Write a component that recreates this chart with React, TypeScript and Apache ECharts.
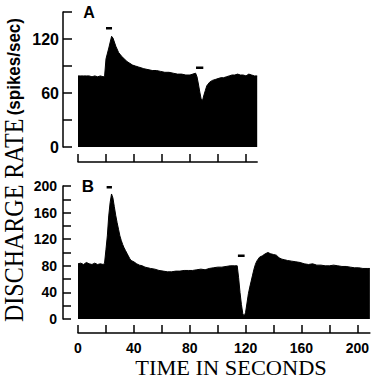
import React, { useEffect, useRef } from "react";
import * as echarts from "echarts";

// Panel A: time (s) and discharge rate (spikes/sec)
const timeA = [0, 2, 4, 6, 8, 10, 12, 14, 16, 18, 19, 20, 22, 24, 25, 27, 29, 31, 33, 35, 37, 39, 41, 43, 45, 47, 50, 53, 56, 59, 62, 65, 68, 71, 74, 77, 80, 82, 84, 85, 86, 87, 88, 89, 90, 91, 92, 94, 96, 98, 100, 102, 104, 106, 108, 110, 112, 114, 116, 118, 120, 122, 124, 126, 128];
const rateA = [79, 79, 79, 79, 79, 78, 79, 78, 79, 78, 79, 98, 110, 123, 121, 112, 105, 101, 98, 95, 93, 91, 90, 89, 88, 87, 86, 85, 85, 84, 83, 83, 82, 81, 81, 80, 80, 81, 82, 78, 70, 61, 53, 52, 58, 63, 68, 72, 74, 75, 76, 77, 77, 78, 79, 80, 80, 81, 80, 80, 79, 81, 80, 79, 79];

// Panel B
const timeB = [0, 2, 4, 6, 8, 10, 12, 14, 16, 18, 19, 20, 21, 22, 23, 24, 25, 26, 27, 28, 29, 30, 31, 32, 33, 34, 35, 36, 37, 38, 40, 42, 44, 46, 48, 50, 52, 55, 58, 61, 64, 67, 70, 73, 76, 79, 82, 85, 88, 91, 94, 97, 100, 103, 106, 109, 112, 114, 115, 116, 117, 118, 119, 120, 121, 122, 123, 124, 125, 126, 127, 128, 130, 132, 134, 136, 138, 140, 142, 144, 146, 148, 150, 153, 156, 159, 162, 165, 168, 171, 174, 177, 180, 183, 186, 189, 192, 195, 198, 201, 204, 207, 209];
const rateB = [83, 84, 82, 85, 83, 82, 84, 82, 83, 82, 84, 104, 125, 155, 175, 188, 182, 169, 156, 145, 135, 125, 118, 112, 107, 103, 99, 95, 91, 88, 86, 83, 81, 80, 78, 77, 76, 75, 73, 72, 71, 71, 72, 72, 73, 73, 73, 74, 75, 74, 76, 77, 78, 78, 79, 80, 80, 80, 62, 40, 22, 8, 4, 10, 24, 38, 48, 57, 66, 75, 82, 87, 93, 95, 98, 100, 98, 97, 96, 92, 90, 89, 88, 87, 86, 85, 83, 82, 83, 81, 81, 80, 80, 81, 80, 79, 79, 78, 77, 77, 76, 76, 76];

// Stimulus bars: start, end (s) and level (spikes/sec)
const stimAStart = [20, 84.3];
const stimAEnd = [24.3, 89.5];
const stimALevel = [132, 88];
const stimBStart = [20.5, 114.5];
const stimBEnd = [24.3, 119.3];
const stimBLevel = [198, 95];

// Ticks
const xTicksA = [0, 20, 40, 60, 80, 100, 120];
const xTicksB = [0, 20, 40, 60, 80, 100, 120, 140, 160, 180, 200];
const xLabelsB = [0, 40, 80, 120, 160, 200];
const yTicksA = [0, 30, 60, 90, 120, 150];
const yLabelsA = [0, 60, 120];
const yTicksB = [0, 20, 40, 60, 80, 100, 120, 140, 160, 180, 200];
const yLabelsB = [0, 40, 80, 120, 160, 200];

const SANS = "Liberation Sans, Arial, sans-serif";
const SERIF = "Liberation Serif, Times New Roman, serif";

function stimSeries(starts: number[], ends: number[], levels: number[], idx: number) {
  return starts.map((s, i) => ({
    type: "line",
    xAxisIndex: idx,
    yAxisIndex: idx,
    data: [
      [s, levels[i]],
      [ends[i], levels[i]],
    ],
    symbol: "none",
    lineStyle: { color: "#000", width: 2.5 },
    silent: true,
  }));
}

export default function App() {
  const ref = useRef<HTMLDivElement>(null);
  useEffect(() => {
    if (!ref.current) return;
    const chart = echarts.init(ref.current, undefined, { renderer: "svg" });
    const axisLine = { show: true, onZero: false, lineStyle: { color: "#000", width: 1.5 } };
    const tickStyle = { color: "#000", width: 1.5 };
    chart.setOption({
      animation: false,
      backgroundColor: "#fff",
      grid: [
        { left: 78, top: 12, width: 179.2, height: 135 },
        { left: 78, top: 186, width: 292.6, height: 133 },
      ],
      xAxis: [
        {
          type: "value",
          gridIndex: 0,
          min: 0,
          max: 128,
          offset: 15,
          axisLine,
          splitLine: { show: false },
          axisTick: { show: true, inside: true, length: 8, customValues: xTicksA, lineStyle: tickStyle },
          axisLabel: { show: false },
        },
        {
          type: "value",
          gridIndex: 1,
          min: 0,
          max: 209,
          offset: 14,
          axisLine,
          splitLine: { show: false },
          axisTick: { show: true, inside: true, length: 8, customValues: xTicksB, lineStyle: tickStyle },
          axisLabel: { show: true, customValues: xLabelsB, color: "#000", fontSize: 14, fontWeight: "bold", fontFamily: SANS, margin: 8 },
        },
      ],
      yAxis: [
        {
          type: "value",
          gridIndex: 0,
          min: 0,
          max: 150,
          interval: 30,
          offset: 15,
          axisLine,
          splitLine: { show: false },
          axisTick: { show: true, inside: true, length: 9, customValues: yTicksA, lineStyle: tickStyle },
          axisLabel: { show: true, customValues: yLabelsA, color: "#000", fontSize: 16, fontWeight: "bold", fontFamily: SANS, margin: 4 },
        },
        {
          type: "value",
          gridIndex: 1,
          min: 0,
          max: 200,
          interval: 20,
          offset: 15,
          axisLine,
          splitLine: { show: false },
          axisTick: { show: true, inside: true, length: 8, customValues: yTicksB, lineStyle: tickStyle },
          axisLabel: { show: true, customValues: yLabelsB, color: "#000", fontSize: 14, fontWeight: "bold", fontFamily: SANS, margin: 6 },
        },
      ],
      series: [
        {
          type: "line",
          xAxisIndex: 0,
          yAxisIndex: 0,
          data: timeA.map((t, i) => [t, rateA[i]]),
          symbol: "none",
          lineStyle: { color: "#000", width: 1 },
          areaStyle: { color: "#000", opacity: 1 },
          silent: true,
        },
        {
          type: "line",
          xAxisIndex: 1,
          yAxisIndex: 1,
          data: timeB.map((t, i) => [t, rateB[i]]),
          symbol: "none",
          lineStyle: { color: "#000", width: 1 },
          areaStyle: { color: "#000", opacity: 1 },
          silent: true,
        },
        ...stimSeries(stimAStart, stimAEnd, stimALevel, 0),
        ...stimSeries(stimBStart, stimBEnd, stimBLevel, 1),
      ],
      graphic: [
        {
          type: "text",
          x: 89,
          y: 12,
          style: { text: "A", fontSize: 16, fontWeight: "bold", fontFamily: SANS, fill: "#000", align: "center", verticalAlign: "middle" },
        },
        {
          type: "text",
          x: 88,
          y: 186,
          style: { text: "B", fontSize: 17, fontWeight: "bold", fontFamily: SANS, fill: "#000", align: "center", verticalAlign: "middle" },
        },
        {
          type: "text",
          x: 231,
          y: 368,
          scaleX: 1.12,
          style: { text: "TIME IN SECONDS", fontSize: 20, fontFamily: SERIF, fill: "#000", align: "center", verticalAlign: "middle" },
        },
        {
          type: "text",
          x: 14,
          y: 170,
          rotation: Math.PI / 2,
          scaleY: 1.12,
          style: {
            text: "{a|DISCHARGE RATE} {b|(spikes/sec)}",
            align: "center",
            verticalAlign: "middle",
            fill: "#000",
            rich: {
              a: { fontSize: 24, lineHeight: 22, fontFamily: SERIF, fill: "#000" },
              b: { fontSize: 17, lineHeight: 22, fontWeight: "bold", fontFamily: SANS, fill: "#000" },
            },
          },
        },
      ],
    });
    return () => chart.dispose();
  }, []);
  return (
    <div
      ref={ref}
      style={{ position: "fixed", left: 0, top: 0, width: 372, height: 380, background: "#fff" }}
    />
  );
}
